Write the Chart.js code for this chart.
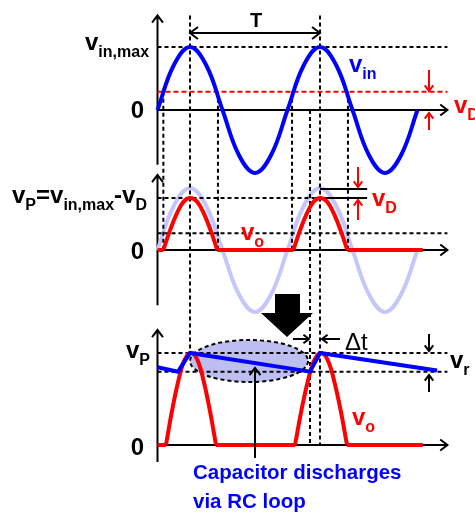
<!DOCTYPE html>
<html>
<head>
<meta charset="utf-8">
<script src="https://cdn.jsdelivr.net/npm/chart.js@4.4.1/dist/chart.umd.min.js"></script>
<style>
  html, body { margin: 0; padding: 0; background: #fff; }
  #wrap { position: relative; width: 475px; height: 518px; }
</style>
</head>
<body>
<div id="wrap"><canvas id="rectifier-chart"></canvas></div>
<script>
// time in periods (T = 1), voltage in units of vin,max
const sineTimes = [0, 0.125, 0.25, 0.375, 0.5, 0.625, 0.75, 0.875, 1, 1.125, 1.25, 1.375, 1.5, 1.625, 1.75, 1.875, 2];
const vinValues = [0, 0.71, 1, 0.71, 0, -0.71, -1, -0.71, 0, 0.71, 1, 0.71, 0, -0.71, -1, -0.71, 0];

const vD = 0.29;
const vP = 0.84;
const vRippleLow = 0.67;

// middle panel: rectified output, no capacitor
const voArchTimes = [
  [0.045, 0.097, 0.149, 0.201, 0.2525, 0.304, 0.356, 0.408, 0.46],
  [1.045, 1.097, 1.149, 1.201, 1.2525, 1.304, 1.356, 1.408, 1.46]
];
const voArchValues = [0, 0.32, 0.59, 0.78, 0.84, 0.78, 0.59, 0.32, 0];
const voFlats = [[0, 0.045], [0.46, 1.045], [1.46, 2.04]];

// bottom panel: with capacitor
const capArchTimes = [
  [0.065, 0.113, 0.161, 0.209, 0.2575, 0.306, 0.354, 0.402, 0.45],
  [1.058, 1.108, 1.158, 1.208, 1.258, 1.308, 1.358, 1.408, 1.458]
];
const capFlats = [[0, 0.065], [0.45, 1.058], [1.458, 2.04]];
const capTimes = [0, 0.158, 0.25, 1.173, 1.25, 2.15];
const capValues = [0.71, 0.67, 0.84, 0.67, 0.84, 0.68];

// guide lines: [axis, level, from t, to t]
const hGuides = [
  ['y1', 1, 0, 2.23],
  ['y2', vP, 0, 1.21],
  ['y2', 0.27, 0, 2.23],
  ['y3', vP, 0, 2.23],
  ['y3', vRippleLow, 0, 2.23]
];
const vGuideTimes = [0.045, 0.25, 0.465, 1.035, 1.173, 1.25, 1.465];
const vGuideTops = [['y1', vD], ['y1', 1.5], ['y1', vD], ['y1', vD], ['y1', 0], ['y1', 1.5], ['y1', vD]];
const vGuideEnds = [['y2', 0], ['y3', vP], ['y2', 0], ['y2', 0], ['y3', 0], ['y3', 0], ['y2', 0]];

const W = 475, H = 518;
const X0 = 157.5, PX_PER_T = 130;
const PANELS = {
  y1: { zero: 110, unit: 63, axis: [-0.87, 1.5] },
  y2: { zero: 250, unit: 62, axis: [-0.89, 1.21] },
  y3: { zero: 445, unit: 109.5, axis: [-0.155, 1.05] }
};
const AXIS_END_T = 2.23;

const BLUE = '#0000ff';
const RED = '#ff0000';
const FONT = '"Liberation Sans", Arial, sans-serif';

function toY1(axis, v) {
  const px = PANELS[axis].zero - v * PANELS[axis].unit;
  return (PANELS.y1.zero - px) / PANELS.y1.unit;
}

function pts(xs, ys) {
  return xs.map((x, i) => ({ x: x, y: ys[i] }));
}

function line(data, yAxisID, color, extra) {
  return Object.assign({
    data: data, yAxisID: yAxisID, borderColor: color, borderWidth: 4,
    pointRadius: 0, fill: false, tension: 0, order: 2
  }, extra || {});
}

const datasets = [];
datasets.push(line(pts(sineTimes, vinValues), 'y2', 'rgb(198,198,252)', { tension: 0.4, order: 10 }));

hGuides.forEach(g => {
  datasets.push(line([{ x: g[2], y: g[1] }, { x: g[3], y: g[1] }], g[0], '#000', { borderWidth: 2, borderDash: [4, 3], order: 5 }));
});
datasets.push(line([{ x: 0, y: vD }, { x: 2.23, y: vD }], 'y1', RED, { borderWidth: 2, borderDash: [5, 3], order: 5 }));
// vD marker lines in middle panel
datasets.push(line([{ x: 1.21, y: vP }, { x: 1.613, y: vP }], 'y2', '#000', { borderWidth: 2, order: 5 }));
datasets.push(line([{ x: 1.25, y: 0.985 }, { x: 1.613, y: 0.985 }], 'y2', '#000', { borderWidth: 2, order: 5 }));

vGuideTimes.forEach((t, i) => {
  const top = toY1(vGuideTops[i][0], vGuideTops[i][1]);
  const end = toY1(vGuideEnds[i][0], vGuideEnds[i][1]);
  datasets.push(line([{ x: t, y: top }, { x: t, y: end }], 'y1', '#000', { borderWidth: 2, borderDash: [4, 3], order: 5 }));
});

voArchTimes.forEach(ts => datasets.push(line(pts(ts, voArchValues), 'y2', RED, { tension: 0.4 })));
voFlats.forEach(f => datasets.push(line([{ x: f[0], y: 0 }, { x: f[1], y: 0 }], 'y2', RED)));
capArchTimes.forEach(ts => datasets.push(line(pts(ts, voArchValues), 'y3', RED, { tension: 0.4 })));
capFlats.forEach(f => datasets.push(line([{ x: f[0], y: 0 }, { x: f[1], y: 0 }], 'y3', RED)));

datasets.push(line(pts(sineTimes, vinValues), 'y1', BLUE, { tension: 0.4, order: 1 }));
datasets.push(line(pts(capTimes, capValues), 'y3', BLUE, { order: 1 }));

function panelScale(p) {
  return { type: 'linear', display: false, min: -(H - p.zero) / p.unit, max: p.zero / p.unit };
}

function arrow(ctx, x1, y1, x2, y2, color, head) {
  const a = Math.atan2(y2 - y1, x2 - x1);
  const h = head || 8;
  ctx.save();
  ctx.strokeStyle = color; ctx.lineWidth = 2; ctx.setLineDash([]);
  ctx.beginPath();
  ctx.moveTo(x1, y1); ctx.lineTo(x2, y2);
  ctx.moveTo(x2 - h * Math.cos(a - 0.65), y2 - h * Math.sin(a - 0.65));
  ctx.lineTo(x2, y2);
  ctx.lineTo(x2 - h * Math.cos(a + 0.65), y2 - h * Math.sin(a + 0.65));
  ctx.stroke();
  ctx.restore();
}

// label made of main and subscript parts
function label(ctx, parts, x, y, color) {
  ctx.save();
  ctx.fillStyle = color;
  ctx.textBaseline = 'alphabetic';
  let cx = x;
  parts.forEach(p => {
    const sub = p[1];
    ctx.font = sub ? 'bold 16px ' + FONT : 'bold 24px ' + FONT;
    ctx.fillText(p[0], cx, sub ? y + 7 : y);
    cx += ctx.measureText(p[0]).width;
  });
  ctx.restore();
}

const backdrop = {
  id: 'backdrop',
  beforeDatasetsDraw(chart) {
    const ctx = chart.ctx;
    const xs = chart.scales.x;
    // discharge ellipse
    const cx = xs.getPixelForValue(0.704);
    const cy = chart.scales.y3.getPixelForValue(0.767);
    ctx.save();
    ctx.beginPath();
    ctx.ellipse(cx, cy, 59, 21, 0, 0, Math.PI * 2);
    ctx.fillStyle = 'rgb(190,190,240)';
    ctx.fill();
    ctx.setLineDash([4, 3]);
    ctx.lineWidth = 2;
    ctx.strokeStyle = '#000';
    ctx.stroke();
    ctx.restore();
    // axes
    Object.keys(PANELS).forEach(id => {
      const ys = chart.scales[id];
      const p = PANELS[id];
      const x0 = xs.getPixelForValue(0);
      arrow(ctx, x0, ys.getPixelForValue(p.axis[0]), x0, ys.getPixelForValue(p.axis[1]), '#000', 9);
      const y0 = ys.getPixelForValue(0);
      arrow(ctx, x0, y0, xs.getPixelForValue(AXIS_END_T), y0, '#000', 9);
    });
  }
};

const notes = {
  id: 'notes',
  afterDatasetsDraw(chart) {
    const ctx = chart.ctx;
    // period arrow
    arrow(ctx, 255, 33, 190, 33, '#000', 10);
    arrow(ctx, 255, 33, 320, 33, '#000', 10);
    ctx.save();
    ctx.font = 'bold 20px ' + FONT;
    ctx.fillStyle = '#000';
    ctx.textAlign = 'center';
    ctx.fillText('T', 256, 27);
    ctx.textAlign = 'right';
    ctx.font = 'bold 24px ' + FONT;
    ctx.fillText('0', 144, 118);
    ctx.fillText('0', 144, 259);
    ctx.fillText('0', 144, 455);
    ctx.restore();

    // vD arrows top panel
    arrow(ctx, 429, 70, 429, 91, RED, 7);
    arrow(ctx, 429, 130, 429, 113, RED, 7);
    // vD arrows middle panel
    arrow(ctx, 358, 167, 358, 187, RED, 7);
    arrow(ctx, 358, 220, 358, 200, RED, 7);
    // ripple arrows
    arrow(ctx, 429, 334, 429, 351, '#000', 7);
    arrow(ctx, 429, 392, 429, 375, '#000', 7);
    // delta t arrows
    arrow(ctx, 293, 339, 309, 339, '#000', 7);
    arrow(ctx, 340, 339, 322, 339, '#000', 7);
    // pointer from caption
    arrow(ctx, 255, 458, 255, 368, '#000', 9);

    // big down arrow
    ctx.save();
    ctx.fillStyle = '#000';
    ctx.beginPath();
    ctx.moveTo(275, 294); ctx.lineTo(300, 294); ctx.lineTo(300, 313);
    ctx.lineTo(313, 313); ctx.lineTo(287, 337); ctx.lineTo(261, 313);
    ctx.lineTo(275, 313); ctx.closePath();
    ctx.fill();
    ctx.restore();

    label(ctx, [['v', 0], ['in,max', 1]], 85, 50, '#000');
    label(ctx, [['v', 0], ['in', 1]], 349, 72, BLUE);
    label(ctx, [['v', 0], ['D', 1]], 454, 113, RED);
    label(ctx, [['v', 0], ['P', 1], ['=', 0], ['v', 0], ['in,max', 1], ['-', 0], ['v', 0], ['D', 1]], 12, 203, '#000');
    label(ctx, [['v', 0], ['o', 1]], 241, 240, RED);
    label(ctx, [['v', 0], ['D', 1]], 372, 206, RED);
    label(ctx, [['v', 0], ['P', 1]], 126, 358, '#000');
    label(ctx, [['v', 0], ['o', 1]], 352, 425, RED);
    label(ctx, [['v', 0], ['r', 1]], 450, 368, '#000');

    ctx.save();
    ctx.fillStyle = '#000';
    ctx.font = '24px ' + FONT;
    ctx.fillText('\u0394t', 345, 350);
    ctx.fillStyle = BLUE;
    ctx.font = 'bold 20.5px ' + FONT;
    ctx.fillText('Capacitor discharges', 193, 479);
    ctx.fillText('via RC loop', 193, 508);
    ctx.restore();
  }
};

new Chart(document.getElementById('rectifier-chart'), {
  type: 'line',
  data: { datasets: datasets },
  options: {
    responsive: true,
    maintainAspectRatio: false,
    animation: false,
    layout: { padding: 0 },
    plugins: { legend: { display: false }, tooltip: { enabled: false } },
    scales: {
      x: { type: 'linear', display: false, min: -X0 / PX_PER_T, max: (W - X0) / PX_PER_T },
      y1: panelScale(PANELS.y1),
      y2: panelScale(PANELS.y2),
      y3: panelScale(PANELS.y3)
    }
  },
  plugins: [backdrop, notes]
});
</script>
</body>
</html>
